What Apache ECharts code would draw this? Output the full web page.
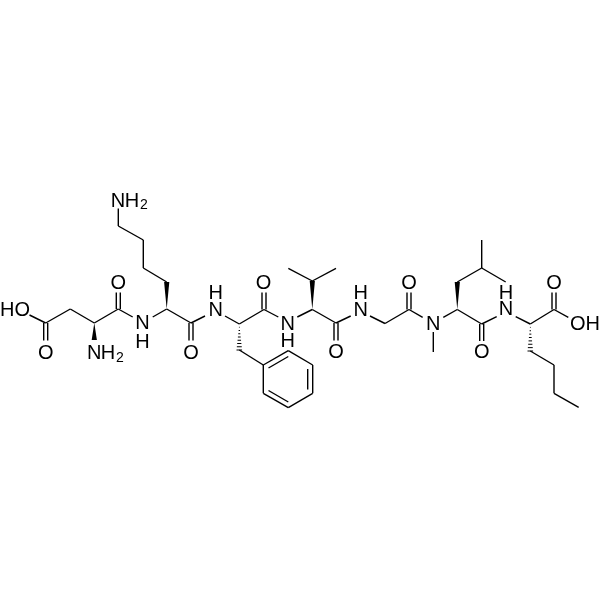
<!DOCTYPE html>
<html><head><meta charset="utf-8">
<style>html,body{margin:0;padding:0;background:#fff}#c{width:600px;height:600px}</style>
<script src="https://cdn.jsdelivr.net/npm/echarts@6/dist/echarts.min.js"></script>
</head><body><div id="c"></div>
<script>
// Atom-to-atom bonds: [x1, y1, x2, y2]
const singleBonds = [
 [29.5,315,45.7,323],[45.7,323,70.3,309],[70.3,309,94.3,323],[94.3,323,118.3,309],
 [118.3,309,132.7,317],[152.7,317,166.7,309],[166.7,282,143.3,268],[143.3,268,143.3,240],
 [143.3,240,118.3,226],[118.3,226,118.3,208.5],[166.7,309,191,323],[191,323,205,316],
 [225,316,239.3,324],[239.3,350,263.3,365],[239.3,324,264,309.5],[264,309.5,278.3,317],
 [297.3,317,312.3,309.5],[312.3,281,288.3,268.3],[312.3,281,336,268.3],[312.3,309.5,336,323],
 [336,323,350.7,316],[370,316,385,323.5],[385,323.5,409,309.5],[409,309.5,422.7,317.3],
 [433.3,332,433.3,352],[443.3,317.3,457.3,309.5],[457.3,282,481.7,268],[481.7,268,481.7,240],
 [481.7,268,505.7,282],[457.3,309.5,481.7,324],[481.7,324,496.7,316.7],[515.7,316.7,530.3,324],
 [530.3,351,554,365],[554,365,554,393.3],[554,393.3,578.7,407.3],[530.3,324,554,309.5],
 [554,309.5,568.3,317.3],
 [263.3,365,288.3,350.7],[288.3,350.7,312.7,365],[312.7,365,312.7,393.3],
 [312.7,393.3,288.3,407.7],[288.3,407.7,263.3,393.3],[263.3,393.3,263.3,365]
];
// Carbonyl C=O: two lines either side of the axis
const doubleBonds = [
 [45.7,323,45.7,340.5],[118.3,309,118.3,292.5],[191,323,191,340.5],[264,309.5,264,292.5],
 [336,323,336,340.5],[409,309.5,409,292.5],[481.7,324,481.7,341],[554,309.5,554,292.5]
];
// Inner lines of the benzene ring
const ringInner = [
 [268.5,368,288.3,356.5],[307.7,369,307.7,389.5],[288.3,402,268.5,390.5]
];
// Stereo bonds: narrow end first
const wedges = [
 [94.3,323,94.3,340],[166.7,309,166.7,282],[312.3,309.5,312.3,281],[457.3,309.5,457.3,282]
];
const hashes = [
 [239.3,324,239.3,350],[530.3,324,530.3,351]
];
// Atom labels: [text, x, y]
const atomLabels = [
 ['HO',15,310],['O',45.7,353],['N',94.3,353],['H',108,353],['O',118.3,283],
 ['N',142.5,323],['H',142.5,342],['N',118,201],['H',132,201],['O',191,353],
 ['N',215.7,310],['H',215.7,293],['O',263.5,283],['N',287.7,324],['H',287.7,341],
 ['O',336,352],['N',360.7,310],['H',360.7,293],['O',409,283],['N',433.3,324],
 ['O',481.7,352.5],['N',506,309.5],['H',506,293],['O',554,283],['OH',585,324]
];
const subscripts = [['2',120,358],['2',144,205]];

const ink = '#000';
const lw = 1.4;
const rawPts = (api) => [api.coord([api.value(0),api.value(1)]), api.coord([api.value(2),api.value(3)])];
const line = (a,b) => ({type:'line',shape:{x1:a[0],y1:a[1],x2:b[0],y2:b[1]},style:{stroke:ink,lineWidth:lw,fill:null}});
const normal = (a,b) => { const dx=b[0]-a[0],dy=b[1]-a[1],l=Math.hypot(dx,dy); return [-dy/l,dx/l]; };

const base = {type:'custom',coordinateSystem:'cartesian2d',silent:true,clip:false,animation:false};
const option = {
 animation:false,
 backgroundColor:'#fff',
 grid:{left:0,right:0,top:0,bottom:0},
 xAxis:{type:'value',min:0,max:600,show:false},
 yAxis:{type:'value',min:0,max:600,inverse:true,show:false},
 tooltip:{show:false},
 series:[
  {...base,name:'single',data:singleBonds.concat(ringInner),renderItem:(p,api)=>{const [a,b]=rawPts(api);return line(a,b);}},
  {...base,name:'double',data:doubleBonds,renderItem:(p,api)=>{
    const [a,b]=rawPts(api),n=normal(a,b),d=2;
    return {type:'group',children:[
      line([a[0]+n[0]*d,a[1]+n[1]*d],[b[0]+n[0]*d,b[1]+n[1]*d]),
      line([a[0]-n[0]*d,a[1]-n[1]*d],[b[0]-n[0]*d,b[1]-n[1]*d])]};
  }},
  {...base,name:'wedge',data:wedges,renderItem:(p,api)=>{
    const [a,b]=rawPts(api),n=normal(a,b),d=2.6;
    return {type:'polygon',shape:{points:[a,[b[0]+n[0]*d,b[1]+n[1]*d],[b[0]-n[0]*d,b[1]-n[1]*d]]},style:{fill:ink}};
  }},
  {...base,name:'hash',data:hashes,renderItem:(p,api)=>{
    const [a,b]=rawPts(api),n=normal(a,b),count=8,kids=[];
    for(let i=1;i<=count;i++){const t=i/count,d=2.8*t,x=a[0]+(b[0]-a[0])*t,y=a[1]+(b[1]-a[1])*t;
      kids.push({type:'line',shape:{x1:x+n[0]*d,y1:y+n[1]*d,x2:x-n[0]*d,y2:y-n[1]*d},style:{stroke:ink,lineWidth:1,fill:null}});}
    return {type:'group',children:kids};
  }},
  {...base,name:'atoms',data:atomLabels.map(r=>[r[1],r[2],r[0]]),renderItem:(p,api)=>{
    const c=api.coord([api.value(0),api.value(1)]);
    return {type:'text',x:c[0],y:c[1],style:{text:String(api.value(2)),fill:ink,font:'20px "Liberation Sans", Arial, sans-serif',align:'center',verticalAlign:'middle'}};
  },encode:{x:0,y:1},dimensions:['x','y',{name:'t',type:'ordinal'}]},
  {...base,name:'sub',data:subscripts.map(r=>[r[1],r[2],r[0]]),renderItem:(p,api)=>{
    const c=api.coord([api.value(0),api.value(1)]);
    return {type:'text',x:c[0],y:c[1],style:{text:String(api.value(2)),fill:ink,font:'14px "Liberation Sans", Arial, sans-serif',align:'center',verticalAlign:'middle'}};
  },encode:{x:0,y:1},dimensions:['x','y',{name:'t',type:'ordinal'}]}
 ]
};
echarts.init(document.getElementById('c'),null,{renderer:'canvas'}).setOption(option);
</script></body></html>
